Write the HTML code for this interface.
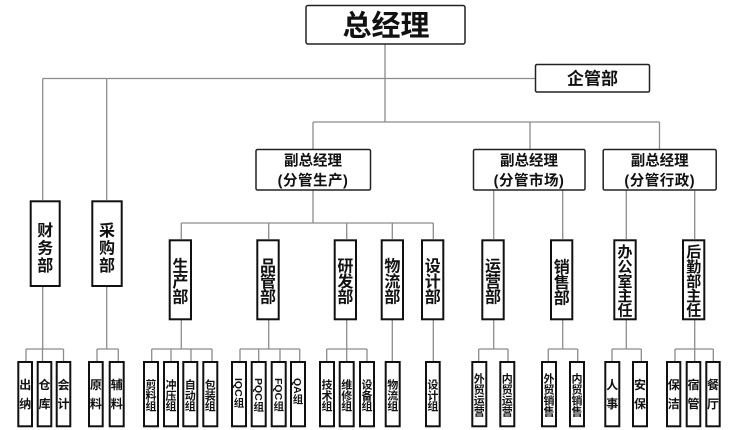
<!DOCTYPE html>
<html><head><meta charset="utf-8">
<style>
html,body{margin:0;padding:0;background:#fff;}
svg{display:block;}
text{font-family:"Liberation Sans","Noto Sans CJK SC",sans-serif;font-weight:bold;fill:#111;}
</style></head>
<body>
<svg width="744" height="430" viewBox="0 0 744 430" xmlns="http://www.w3.org/2000/svg">
<rect width="744" height="430" fill="#fff"/>
<!-- connectors -->
<g stroke="#8c8c8c" stroke-width="1.3" fill="none">
<path d="M385,44V122"/>
<path d="M42.7,78.5H535"/>
<path d="M42.7,78.5V200M106.7,78.5V200"/>
<path d="M313,122H659.5M313,122V149M530,122V149M659.5,122V149"/>
<path d="M313,190V223M181.3,223H433.3"/>
<path d="M181.3,223V239M268.7,223V239M346.7,223V239M392.3,223V239M433.3,223V239"/>
<path d="M493.7,190V239M562.7,190V239M626.3,190V239M694.7,190V239"/>
<!-- dept down -->
<path d="M42.7,287V349M106.7,287V349"/>
<path d="M181.3,320V349M268.7,320V349M346.7,320V349M392.3,320V361M433.3,320V361"/>
<path d="M493.7,320V349M562.7,320V349M626.3,320V349M694.7,320V349"/>
<!-- sub horizontals -->
<path d="M26,349H63.5M97,349H118.3M151.7,349H212M240,349H299.7M326.7,349H367M478.7,349H508M548.3,349H577.7M612,349H641.3M675,349H713.3"/>
<!-- sub verticals -->
<path d="M26,349V361M42.5,349V361M63.5,349V361M97,349V361M118.3,349V361"/>
<path d="M151.7,349V361M171,349V361M191,349V361M212,349V361"/>
<path d="M240,349V361M258.7,349V361M280,349V361M299.7,349V361"/>
<path d="M326.7,349V361M346.7,349V361M367,349V361"/>
<path d="M478.7,349V361M508,349V361M548.3,349V361M577.7,349V361"/>
<path d="M612,349V361M641.3,349V361M675,349V361M694.7,349V361M713.3,349V361"/>
</g>

<!-- top level boxes -->
<g fill="#fff" stroke="#222" stroke-width="1.5">
<rect x="306" y="5.5" width="159" height="38.5" rx="2"/>
<rect x="535.5" y="64.5" width="114" height="27.5" rx="1.5"/>
<rect x="256" y="149.5" width="114.5" height="40.5" rx="1.5"/>
<rect x="473.5" y="149.5" width="111.5" height="40.5" rx="1.5"/>
<rect x="603.2" y="149.5" width="113" height="40.5" rx="1.5"/>
</g>
<text x="386" y="35.7" font-size="29" text-anchor="middle">总经理</text>
<text x="592.5" y="84.3" font-size="17" text-anchor="middle">企管部</text>
<g font-size="14.5" text-anchor="middle">
<text x="313" y="165.4">副总经理</text>
<text x="313" y="185.4" letter-spacing="0.5">(分管生产)</text>
<text x="529" y="165.4">副总经理</text>
<text x="529" y="185.4" letter-spacing="0.5">(分管市场)</text>
<text x="659.7" y="165.4">副总经理</text>
<text x="659.7" y="185.4" letter-spacing="0.5">(分管行政)</text>
</g>

<!-- dept boxes -->
<g fill="#fff" stroke="#111" stroke-width="2">
<rect x="30.7" y="201.3" width="29" height="84.7"/>
<rect x="92.3" y="201.3" width="29.4" height="84.7"/>
<rect x="169.7" y="240.3" width="21.3" height="79"/>
<rect x="257.3" y="240.3" width="21.4" height="79"/>
<rect x="334.7" y="240.3" width="21.3" height="79"/>
<rect x="381.7" y="240.3" width="21.3" height="79"/>
<rect x="422" y="240.3" width="21.3" height="79"/>
<rect x="482.3" y="240.3" width="21.4" height="79"/>
<rect x="551" y="240.3" width="21.3" height="79"/>
<rect x="614.3" y="240.3" width="21.4" height="79"/>
<rect x="683" y="240.3" width="21.3" height="79"/>
</g>
<g font-size="16" text-anchor="middle">
<text x="45.2" y="235.9">财</text><text x="45.2" y="253.4">务</text><text x="45.2" y="270.9">部</text>
<text x="107" y="235.9">采</text><text x="107" y="253.4">购</text><text x="107" y="270.9">部</text>
<text x="180.4" y="271.7">生</text><text x="180.4" y="287.1">产</text><text x="180.4" y="302.6">部</text>
<text x="268" y="271.7">品</text><text x="268" y="287.1">管</text><text x="268" y="302.6">部</text>
<text x="345.4" y="271.7">研</text><text x="345.4" y="287.1">发</text><text x="345.4" y="302.6">部</text>
<text x="392.4" y="271.7">物</text><text x="392.4" y="287.1">流</text><text x="392.4" y="302.6">部</text>
<text x="432.7" y="271.7">设</text><text x="432.7" y="287.1">计</text><text x="432.7" y="302.6">部</text>
<text x="493" y="271.7">运</text><text x="493" y="287.1">营</text><text x="493" y="302.6">部</text>
<text x="561.7" y="272.7">销</text><text x="561.7" y="288.1">售</text><text x="561.7" y="303.6">部</text>
</g>
<g font-size="15" text-anchor="middle">
<text x="625" y="257.2">办</text><text x="625" y="271.8">公</text><text x="625" y="286.5">室</text><text x="625" y="301.1">主</text><text x="625" y="315.7">任</text>
<text x="693.7" y="257.2">后</text><text x="693.7" y="271.8">勤</text><text x="693.7" y="286.5">部</text><text x="693.7" y="301.1">主</text><text x="693.7" y="315.7">任</text>
</g>

<!-- sub boxes -->
<g fill="#fff" stroke="#111" stroke-width="2">
<rect x="18.3" y="362" width="13.7" height="64.3"/>
<rect x="37.7" y="362" width="13.6" height="64.3"/>
<rect x="56.7" y="362" width="13.6" height="64.3"/>
<rect x="89" y="362" width="13.7" height="64.3"/>
<rect x="109.7" y="362" width="14" height="64.3"/>
<rect x="144" y="362" width="14" height="64.3"/>
<rect x="164" y="362" width="14" height="64.3"/>
<rect x="183.3" y="362" width="14" height="64.3"/>
<rect x="203.3" y="362" width="14" height="64.3"/>
<rect x="232" y="362" width="14" height="64.3"/>
<rect x="251.7" y="362" width="14" height="64.3"/>
<rect x="271.7" y="362" width="14" height="64.3"/>
<rect x="291" y="362" width="14" height="64.3"/>
<rect x="320" y="362" width="14" height="64.3"/>
<rect x="339.7" y="362" width="14" height="64.3"/>
<rect x="360" y="362" width="14" height="64.3"/>
<rect x="385.7" y="362" width="14" height="64.3"/>
<rect x="426" y="362" width="13.7" height="64.3"/>
<rect x="472.3" y="362" width="14" height="64.3"/>
<rect x="500.3" y="362" width="14" height="64.3"/>
<rect x="542" y="362" width="14" height="64.3"/>
<rect x="570" y="362" width="14" height="64.3"/>
<rect x="605.3" y="362" width="14" height="64.3"/>
<rect x="633" y="362" width="14" height="64.3"/>
<rect x="667" y="362" width="13.3" height="64.3"/>
<rect x="686.7" y="362" width="13.6" height="64.3"/>
<rect x="706.3" y="362" width="13.4" height="64.3"/>
</g>
<!-- 2-char subs -->
<g font-size="12" text-anchor="middle">
<text x="25.2" y="389">出</text><text x="25.2" y="407.8">纳</text>
<text x="44.5" y="389">仓</text><text x="44.5" y="407.8">库</text>
<text x="63.5" y="389">会</text><text x="63.5" y="407.8">计</text>
<text x="95.9" y="389">原</text><text x="95.9" y="407.8">料</text>
<text x="116.7" y="389">辅</text><text x="116.7" y="407.8">料</text>
<text x="612.3" y="389">人</text><text x="612.3" y="407.8">事</text>
<text x="640" y="389">安</text><text x="640" y="407.8">保</text>
<text x="673.7" y="389">保</text><text x="673.7" y="407.8">洁</text>
<text x="693.5" y="389">宿</text><text x="693.5" y="407.8">管</text>
<text x="713" y="389">餐</text><text x="713" y="407.8">厅</text>
</g>
<!-- 3-char subs -->
<g font-size="11" text-anchor="middle">
<text x="151" y="388.6">剪</text><text x="151" y="399.3">料</text><text x="151" y="409.9">组</text>
<text x="171" y="388.6">冲</text><text x="171" y="399.3">压</text><text x="171" y="409.9">组</text>
<text x="190.3" y="388.6">自</text><text x="190.3" y="399.3">动</text><text x="190.3" y="409.9">组</text>
<text x="210.3" y="388.6">包</text><text x="210.3" y="399.3">装</text><text x="210.3" y="409.9">组</text>
<text x="327" y="388.6">技</text><text x="327" y="399.3">术</text><text x="327" y="409.9">组</text>
<text x="346.7" y="388.6">维</text><text x="346.7" y="399.3">修</text><text x="346.7" y="409.9">组</text>
<text x="367" y="388.6">设</text><text x="367" y="399.3">备</text><text x="367" y="409.9">组</text>
<text x="392.7" y="388.6">物</text><text x="392.7" y="399.3">流</text><text x="392.7" y="409.9">组</text>
<text x="432.9" y="388.6">设</text><text x="432.9" y="399.3">计</text><text x="432.9" y="409.9">组</text>
</g>
<!-- 4-char subs -->
<g font-size="11" text-anchor="middle">
<text x="479.3" y="382.3">外</text><text x="479.3" y="393.3">贸</text><text x="479.3" y="404.3">运</text><text x="479.3" y="415.3">营</text>
<text x="507.3" y="382.3">内</text><text x="507.3" y="393.3">贸</text><text x="507.3" y="404.3">运</text><text x="507.3" y="415.3">营</text>
<text x="549" y="382.3">外</text><text x="549" y="393.3">贸</text><text x="549" y="404.3">销</text><text x="549" y="415.3">售</text>
<text x="577" y="382.3">内</text><text x="577" y="393.3">贸</text><text x="577" y="404.3">销</text><text x="577" y="415.3">售</text>
</g>
<!-- QC subs: rotated Latin + upright 组 -->
<g font-size="10.5">
<text transform="translate(239,378) rotate(90)" x="0" y="3.8">IQC</text>
<text x="239" y="406.3" text-anchor="middle">组</text>
<text transform="translate(258.7,378) rotate(90)" x="0" y="3.8">PQC</text>
<text x="258.7" y="410.5" text-anchor="middle">组</text>
<text transform="translate(278.7,378) rotate(90)" x="0" y="3.8">FQC</text>
<text x="278.7" y="410" text-anchor="middle">组</text>
<text transform="translate(298,378) rotate(90)" x="0" y="3.8">QA</text>
<text x="298" y="403" text-anchor="middle">组</text>
</g>
</svg>
</body></html>
